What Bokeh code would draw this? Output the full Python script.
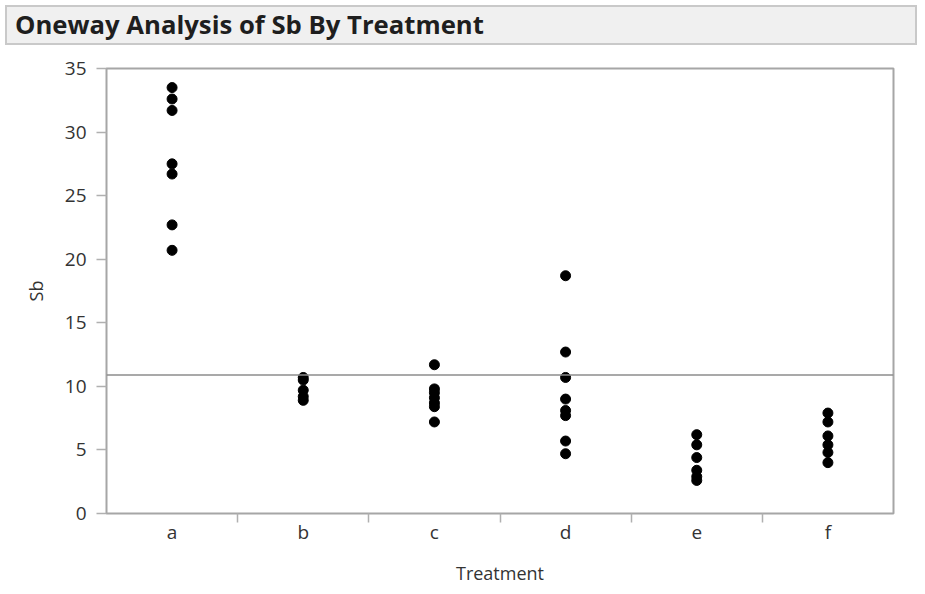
from bokeh.plotting import figure
from bokeh.models import Div, Span, FixedTicker, Range1d
from bokeh.layouts import column
from bokeh.embed import file_html
from bokeh.resources import INLINE

# values
treatments = ["a", "b", "c", "d", "e", "f"]
sb_a = [33.5, 32.6, 31.7, 27.5, 26.7, 22.7, 20.7]
sb_b = [10.7, 10.5, 9.7, 9.2, 8.9]
sb_c = [11.7, 9.8, 9.5, 9.1, 8.7, 8.4, 7.2]
sb_d = [18.7, 12.7, 10.7, 9.0, 8.1, 7.7, 5.7, 4.7]
sb_e = [6.2, 5.4, 4.4, 3.4, 2.9, 2.6]
sb_f = [7.9, 7.2, 6.1, 5.4, 4.8, 4.0]
grand_mean = 10.9
y_ticks = [0, 5, 10, 15, 20, 25, 30, 35]

groups = [sb_a, sb_b, sb_c, sb_d, sb_e, sb_f]

# each treatment sits in the middle of its slot
xs, ys = [], []
for i, vals in enumerate(groups):
    xs += [i + 0.5] * len(vals)
    ys += vals

font = "Open Sans"

header = Div(
    text="Oneway Analysis of Sb By Treatment",
    width=912, height=40,
    styles={
        "background-color": "#f0f0f0",
        "border": "2px solid #c9c9c9",
        "box-sizing": "border-box",
        "font-family": font,
        "font-weight": "bold",
        "font-size": "25.7px",
        "color": "#1e1e1e",
        "padding-left": "8px",
        "line-height": "36px",
    },
)

p = figure(width=909, height=537, output_backend="svg", toolbar_location=None,
           x_range=Range1d(0, len(treatments)), y_range=Range1d(0, 35),
           x_axis_label="Treatment", y_axis_label="Sb",
           min_border_left=106, min_border_right=16, min_border_top=18, min_border_bottom=60)

p.scatter(xs, ys, size=10, color="black")

# grand mean line
p.add_layout(Span(location=grand_mean, dimension="width", line_color="#8c8c8c", line_width=1.5))

p.grid.visible = False
p.outline_line_color = "#a6a6a6"
p.outline_line_width = 2
p.background_fill_color = "white"
p.border_fill_color = "white"

p.xaxis.ticker = FixedTicker(ticks=[i + 0.5 for i in range(len(treatments))],
                             minor_ticks=list(range(1, len(treatments))))
p.xaxis.major_label_overrides = {i + 0.5: t for i, t in enumerate(treatments)}
p.xaxis.major_tick_line_color = None
p.xaxis.major_tick_out = 0
p.xaxis.minor_tick_line_color = "#b0b0b0"
p.xaxis.minor_tick_line_width = 1.5
p.xaxis.minor_tick_in = 0
p.xaxis.minor_tick_out = 9
p.xaxis.major_label_standoff = -4

p.yaxis.ticker = FixedTicker(ticks=y_ticks)
p.yaxis.minor_tick_line_color = None
p.yaxis.major_tick_line_color = "#b0b0b0"
p.yaxis.major_tick_line_width = 1.5
p.yaxis.major_tick_in = 0
p.yaxis.major_tick_out = 10
p.yaxis.major_label_standoff = 10

for ax in [p.xaxis, p.yaxis]:
    ax.axis_line_color = None
    ax.major_label_text_font = font
    ax.major_label_text_font_size = "19px"
    ax.major_label_text_color = "#333333"
    ax.axis_label_text_font = font
    ax.axis_label_text_font_size = "18px"
    ax.axis_label_text_font_style = "normal"
    ax.axis_label_text_color = "#333333"

p.xaxis.axis_label_standoff = 13
p.yaxis.axis_label_standoff = 14

layout = column(header, p, spacing=0)

open("out.html", "w").write(file_html(layout, INLINE))
